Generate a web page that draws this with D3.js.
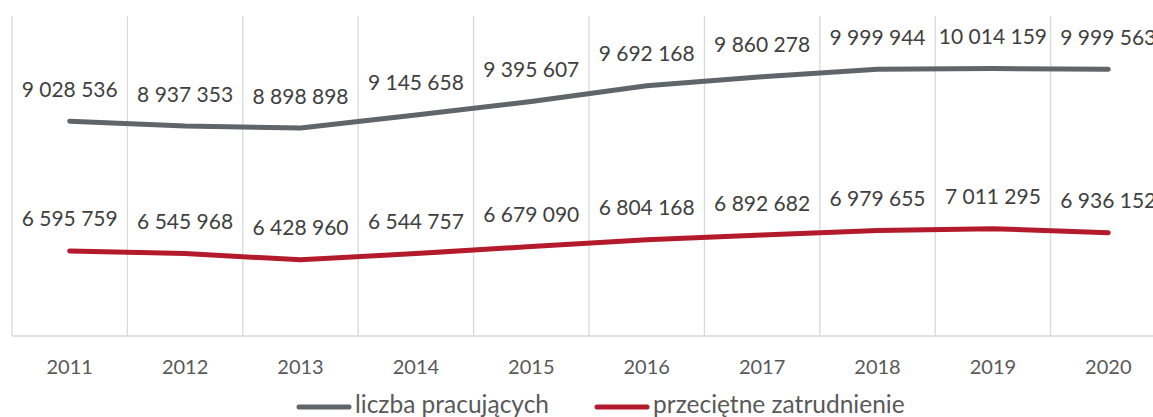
<!DOCTYPE html>
<html>
<head>
<meta charset="utf-8">
<script src="https://cdn.jsdelivr.net/npm/d3@7"></script>
<style>
  body { margin: 0; background: #fff; }
  svg { display: block; font-family: Lato, "Open Sans", sans-serif; }
</style>
</head>
<body>
<svg width="1153" height="417"></svg>
<script>
const years = ["2011", "2012", "2013", "2014", "2015", "2016", "2017", "2018", "2019", "2020"];
const pracujacy = [9028536, 8937353, 8898898, 9145658, 9395607, 9692168, 9860278, 9999944, 10014159, 9999563];
const zatrudnienie = [6595759, 6545968, 6428960, 6544757, 6679090, 6804168, 6892682, 6979655, 7011295, 6936152];
const seriesNames = ["liczba pracujących", "przeciętne zatrudnienie"];

const svg = d3.select("svg"),
      plot = {left: 12, top: 16, bottom: 336, step: 115.4};

const x = d3.scaleBand().domain(years).range([plot.left, plot.left + plot.step * years.length]);
const y = d3.scaleLinear().domain([5000000, 11000000]).range([plot.bottom, plot.top]);
const color = d3.scaleOrdinal().domain(seriesNames).range(["#606569", "#b31a2c"]);

const fmt = v => d3.format(",")(v).replace(/,/g, " ");

// vertical gridlines between categories
const edges = years.map(d => x(d)).concat([x.range()[1]]);
svg.append("g").selectAll("line")
  .data(edges)
  .join("line")
  .attr("x1", d => d).attr("x2", d => d)
  .attr("y1", plot.top).attr("y2", plot.bottom)
  .attr("stroke", "#d9d9d9").attr("stroke-width", 1.3);

svg.append("line")
  .attr("x1", x.range()[0]).attr("x2", x.range()[1])
  .attr("y1", plot.bottom).attr("y2", plot.bottom)
  .attr("stroke", "#d9d9d9").attr("stroke-width", 1.3);

// year labels
const xAxis = svg.append("g")
  .attr("transform", `translate(0,${plot.bottom})`)
  .call(d3.axisBottom(x).tickSize(0).tickPadding(24));
xAxis.select(".domain").remove();
xAxis.selectAll("text")
  .attr("font-size", 20)
  .attr("font-family", "Lato, 'Open Sans', sans-serif")
  .attr("fill", "#595959");

const series = [
  {name: seriesNames[0], values: pracujacy},
  {name: seriesNames[1], values: zatrudnienie}
];

const line = d3.line()
  .x((d, i) => x(years[i]) + x.bandwidth() / 2)
  .y(d => y(d));

svg.append("g").selectAll("path")
  .data(series)
  .join("path")
  .attr("fill", "none")
  .attr("stroke", d => color(d.name))
  .attr("stroke-width", 5)
  .attr("stroke-linecap", "round")
  .attr("stroke-linejoin", "round")
  .attr("d", d => line(d.values));

// data labels above points
series.forEach(s => {
  svg.append("g").selectAll("text")
    .data(s.values)
    .join("text")
    .attr("x", (d, i) => x(years[i]) + x.bandwidth() / 2)
    .attr("y", d => y(d) - 24.5)
    .attr("text-anchor", "middle")
    .attr("font-size", 21)
    .attr("fill", "#404040")
    .text(d => fmt(d));
});

// legend
const legendItems = [
  {name: seriesNames[0], x: 297},
  {name: seriesNames[1], x: 595}
];
const legend = svg.append("g").selectAll("g")
  .data(legendItems)
  .join("g")
  .attr("transform", d => `translate(${d.x},407)`);
legend.append("line")
  .attr("x1", 2).attr("x2", 52)
  .attr("stroke", d => color(d.name))
  .attr("stroke-width", 5)
  .attr("stroke-linecap", "round");
legend.append("text")
  .attr("x", 58).attr("y", 6)
  .attr("font-size", 24.5)
  .attr("fill", "#595959")
  .text(d => d.name);
</script>
</body>
</html>
